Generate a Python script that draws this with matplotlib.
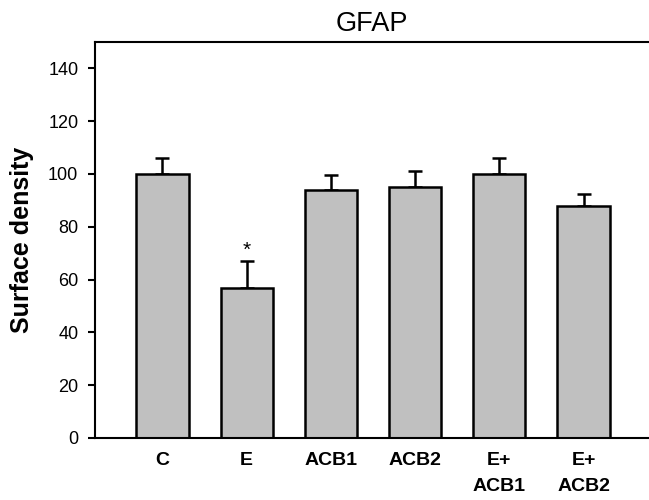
import matplotlib
matplotlib.use("Agg")
import matplotlib.pyplot as plt
import numpy as np

categories = ["C", "E", "ACB1", "ACB2", "E+\nACB1", "E+\nACB2"]
values = [100, 57, 94, 95, 100, 88]
errors = [6, 10, 5.5, 6, 6, 4.5]
yticks = [0, 20, 40, 60, 80, 100, 120, 140]

plt.rcParams['font.family'] = ['Liberation Sans', 'DejaVu Sans']

fig = plt.figure(figsize=(6.49, 5.0), dpi=100)
ax = fig.add_axes([95/649, 1 - 438/500, (651 - 95)/649, (438 - 42)/500])

x = np.arange(len(categories))
ax.bar(x, values, width=0.62, color="#c0c0c0", edgecolor="black", linewidth=1.8, zorder=2)
ax.errorbar(x, values, yerr=[np.zeros(len(errors)), errors], fmt="none",
            ecolor="black", elinewidth=1.8, capsize=5, capthick=1.8, zorder=1)

ax.text(x[1], values[1] + errors[1] + 4, "*", ha="center", va="center", fontsize=15)

ax.set_xlim(-0.8, 5.8)
ax.set_ylim(0, 150)
ax.set_yticks(yticks)
ax.set_xticks(x)
ax.set_xticklabels(categories, fontsize=14, fontweight="bold", linespacing=1.7, va="top")
ax.tick_params(axis="x", length=0, pad=10)
ax.tick_params(axis="y", labelsize=13, length=5, width=1.5, direction="out", pad=7)

for s in ["left", "bottom", "top"]:
    ax.spines[s].set_linewidth(1.5)
ax.spines["right"].set_visible(False)

ax.set_ylabel("Surface density", fontsize=18, fontweight="bold", labelpad=10)
fig.text(372/649, 1 - 24/500, "GFAP", ha="center", va="center", fontsize=19.5)

fig.savefig("out.png", dpi=100)
